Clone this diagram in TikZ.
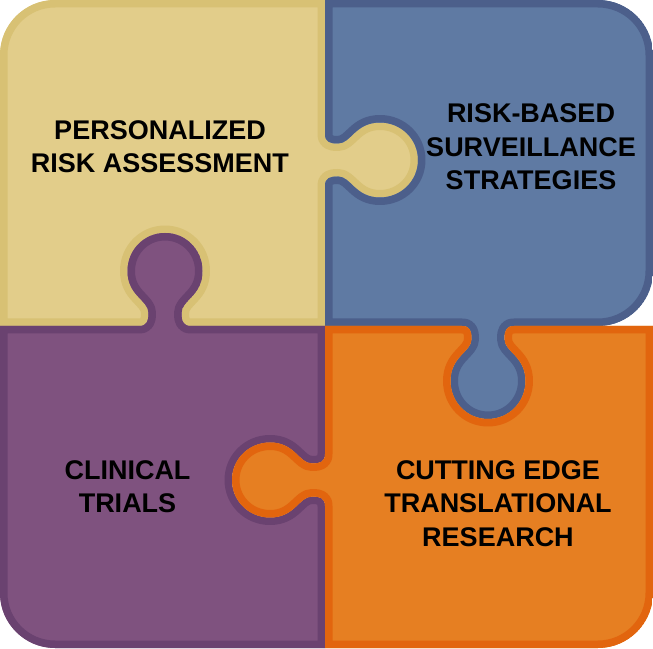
\documentclass[tikz,border=0pt]{standalone}
\usepackage{fontspec}
\setmainfont{Liberation Sans}
\definecolor{yelfill}{HTML}{E2CD8A}
\definecolor{yelline}{HTML}{D8C174}
\definecolor{blufill}{HTML}{5F7AA3}
\definecolor{bluline}{HTML}{4C5F8B}
\definecolor{purfill}{HTML}{7F527F}
\definecolor{purline}{HTML}{6A4270}
\definecolor{orafill}{HTML}{E67F22}
\definecolor{oraline}{HTML}{E2650E}
\newcommand\knob{-- (-26,0) .. controls (-18,0) and (-16.5,5) .. (-16.5,13)
  .. controls (-16.5,26) and (-37.5,30) .. (-37.5,55)
  .. controls (-37.5,76) and (-21,93) .. (0,93)
  .. controls (21,93) and (37.5,76) .. (37.5,55)
  .. controls (37.5,30) and (16.5,26) .. (16.5,13)
  .. controls (16.5,5) and (18,0) .. (26,0)}
\newcommand\yelpath{(325,648) -- (55,648) arc[start angle=90,end angle=180,radius=55]
  -- (0,322) {[shift={(165,322)}] \knob} -- (325,322)
  {[shift={(325,488)},rotate=90,yscale=-1] \knob} -- cycle}
\newcommand\blupath{(325,322) {[shift={(488,322)},yscale=-1] \knob} -- (598,322)
  arc[start angle=-90,end angle=0,radius=55] -- (653,593)
  arc[start angle=0,end angle=90,radius=55] -- (325,648)
  {[shift={(325,488)},rotate=-90] \knob} -- cycle}
\newcommand\purpath{(0,322) -- (0,55) arc[start angle=180,end angle=270,radius=55]
  -- (325,0) {[shift={(325,168)},rotate=90] \knob} -- (325,322)
  {[shift={(165,322)},xscale=-1] \knob} -- cycle}
\newcommand\orapath{(325,322) {[shift={(325,168)},rotate=-90,yscale=-1] \knob} -- (325,0)
  -- (598,0) arc[start angle=-90,end angle=0,radius=55] -- (653,322)
  {[shift={(488,322)},rotate=180] \knob} -- cycle}
\newcommand\drawpiece[3]{\begin{scope}
  \clip #1;
  \fill[#2] #1;
  \draw[#3,line width=15pt,line join=round] #1;
\end{scope}}
\begin{document}
\begin{tikzpicture}[x=1pt,y=1pt,
  label/.style={align=center,text=black,font=\fontsize{27pt}{33.5pt}\selectfont\bfseries}]
\useasboundingbox (0,0) rectangle (653,648);
\drawpiece{\yelpath}{yelfill}{yelline}
\drawpiece{\blupath}{blufill}{bluline}
\drawpiece{\purpath}{purfill}{purline}
\drawpiece{\orapath}{orafill}{oraline}

\node[label] (risk) at (160,501.5) {PERSONALIZED\\RISK ASSESSMENT};
\node[label] (surv) at (531,501) {RISK-BASED\\SURVEILLANCE\\STRATEGIES};
\node[label] (trials) at (127.5,161.5) {CLINICAL\\TRIALS};
\node[label] (research) at (498,144.5) {CUTTING EDGE\\TRANSLATIONAL\\RESEARCH};
\end{tikzpicture}
\end{document}
